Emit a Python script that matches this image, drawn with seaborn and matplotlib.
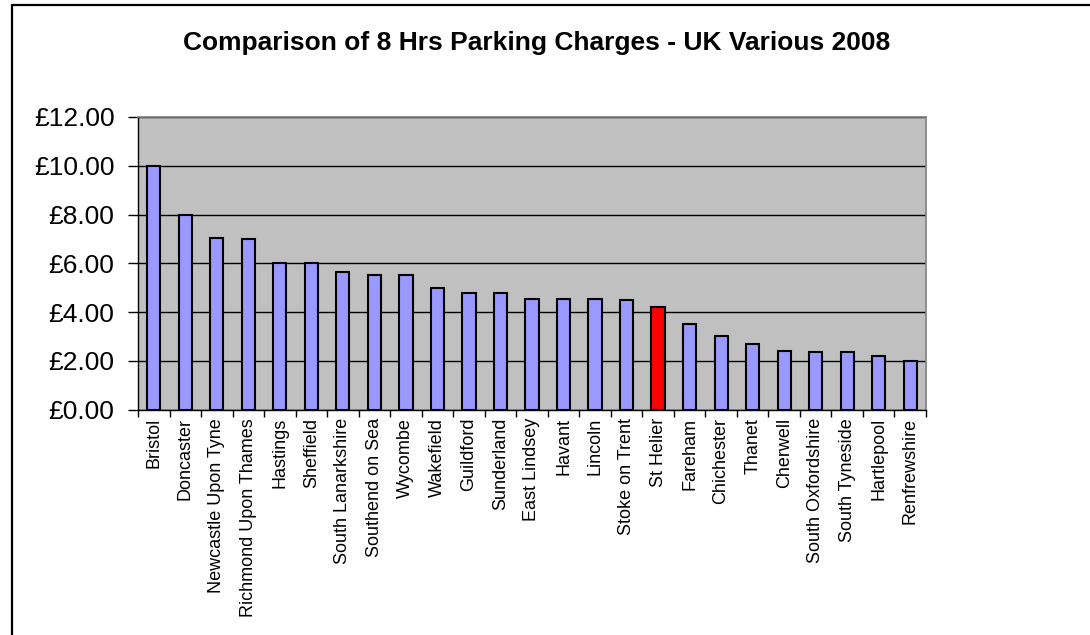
import matplotlib
matplotlib.use("Agg")
import matplotlib.pyplot as plt
import matplotlib.ticker as mticker
from matplotlib.lines import Line2D
import seaborn as sns
import pandas as pd
import numpy as np

# Charges for 8 hours parking
towns = [
    "Bristol", "Doncaster", "Newcastle Upon Tyne", "Richmond Upon Thames",
    "Hastings", "Sheffield", "South Lanarkshire", "Southend on Sea",
    "Wycombe", "Wakefield", "Guildford", "Sunderland", "East Lindsey",
    "Havant", "Lincoln", "Stoke on Trent", "St Helier", "Fareham",
    "Chichester", "Thanet", "Cherwell", "South Oxfordshire",
    "South Tyneside", "Hartlepool", "Renfrewshire",
]
charges = [
    10.00, 8.00, 7.05, 7.00, 6.00, 6.00, 5.65, 5.50, 5.50, 5.00, 4.80,
    4.80, 4.55, 4.55, 4.55, 4.50, 4.20, 3.50, 3.00, 2.70, 2.40, 2.35,
    2.35, 2.20, 2.00,
]
highlight = "St Helier"

df = pd.DataFrame({"town": towns, "charge": charges})
palette = {t: ("#FF0000" if t == highlight else "#9999FF") for t in towns}

sns.set_style("white")
plt.rcParams["font.family"] = ["Liberation Sans", "DejaVu Sans"]
plt.rcParams["text.color"] = "black"
plt.rcParams["xtick.color"] = "black"
plt.rcParams["ytick.color"] = "black"

fig = plt.figure(figsize=(10.9, 6.35), dpi=100)
ax = fig.add_axes([138 / 1090, 1 - 409.5 / 635, 788 / 1090, 292.5 / 635])

sns.barplot(
    data=df, x="town", y="charge", hue="town", palette=palette,
    width=0.42, edgecolor="black", linewidth=1.5, saturation=1,
    legend=False, ax=ax,
)

ax.set_facecolor("#C0C0C0")
ax.set_axisbelow(True)
ax.set_ylim(0, 12)
ax.set_xlim(-0.5, len(towns) - 0.5)
ax.yaxis.set_major_locator(mticker.MultipleLocator(2))
ax.yaxis.set_major_formatter(mticker.FuncFormatter(lambda v, p: "£%.2f" % v))
ax.grid(axis="y", color="black", linewidth=1)
ax.grid(axis="x", visible=False)

ax.set_xlabel("")
ax.set_ylabel("")
ax.tick_params(axis="y", labelsize=19, length=7, width=1, color="black",
               pad=10, left=True)
ax.set_xticks(range(len(towns)))
ax.set_xticklabels(towns, rotation=90, fontsize=13)
ax.tick_params(axis="x", which="major", length=0, pad=6)
ax.set_xticks(np.arange(-0.5, len(towns), 1), minor=True)
ax.tick_params(axis="x", which="minor", length=5, width=1, color="black",
               bottom=True)

for side in ["top", "right"]:
    ax.spines[side].set_color("#808080")
    ax.spines[side].set_linewidth(1.2)
for side in ["left", "bottom"]:
    ax.spines[side].set_color("black")
    ax.spines[side].set_linewidth(1)

fig.text(537 / 1090, 1 - 43 / 635,
         "Comparison of 8 Hrs Parking Charges - UK Various 2008",
         ha="center", va="center", fontsize=19, fontweight="bold")

# outer chart frame (only top and left edges fall inside the image)
fig.add_artist(Line2D([12 / 1090, 12 / 1090], [0, 1 - 5 / 635],
                      transform=fig.transFigure, color="black", linewidth=1.6))
fig.add_artist(Line2D([12 / 1090, 1], [1 - 5 / 635, 1 - 5 / 635],
                      transform=fig.transFigure, color="black", linewidth=1.6))

fig.savefig("out.png", dpi=100)
